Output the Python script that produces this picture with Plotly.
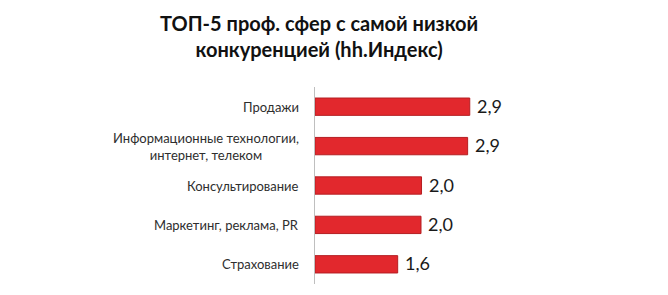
import plotly.graph_objects as go

categories = ["Продажи", "Информационные технологии,<br>интернет, телеком", "Консультирование",
              "Маркетинг, реклама, PR", "Страхование"]
values = [2.92, 2.88, 2.01, 2.0, 1.56]
value_labels = ["2,9", "2,9", "2,0", "2,0", "1,6"]

W, H = 668, 295
L, R, T, B = 315, 35, 87, 11
FONT = "Lato, Open Sans, sans-serif"

fig = go.Figure()
fig.add_trace(go.Bar(
    y=list(range(len(categories))), x=values, orientation="h",
    marker=dict(color="#E2282D", line=dict(color="#B51E22", width=1)),
    width=0.44,
))

for i, c in enumerate(categories):
    fig.add_annotation(x=0, y=i, xref="x", yref="y", text=c, showarrow=False,
                       xanchor="right", align="center", xshift=-14,
                       font=dict(family=FONT, size=13, color="#2e2e2e"))
    fig.add_annotation(x=values[i], y=i, xref="x", yref="y", text=value_labels[i], showarrow=False,
                       xanchor="left", xshift=5, yshift=1,
                       font=dict(family=FONT, size=18, color="#1a1a1a"))

plot_w = W - L - R
plot_h = H - T - B
fig.add_annotation(text="<b>ТОП-5 проф. сфер с самой низкой<br>конкуренцией (hh.Индекс)</b>",
                   xref="paper", yref="paper", x=(319 - L) / plot_w, y=1 + (T - 9) / plot_h,
                   xanchor="center", yanchor="top", showarrow=False, align="center",
                   font=dict(family=FONT, size=20, color="#111111"))

fig.update_layout(
    width=W, height=H,
    margin=dict(l=L, r=R, t=T, b=B),
    plot_bgcolor="white", paper_bgcolor="white",
    showlegend=False,
    xaxis=dict(range=[0, 6], visible=False),
    yaxis=dict(range=[len(categories) - 0.5, -0.5], showticklabels=False, showgrid=False,
               zeroline=False, showline=True, linecolor="#BFBFBF", linewidth=1, ticks=""),
)

fig.write_html("out.html")
